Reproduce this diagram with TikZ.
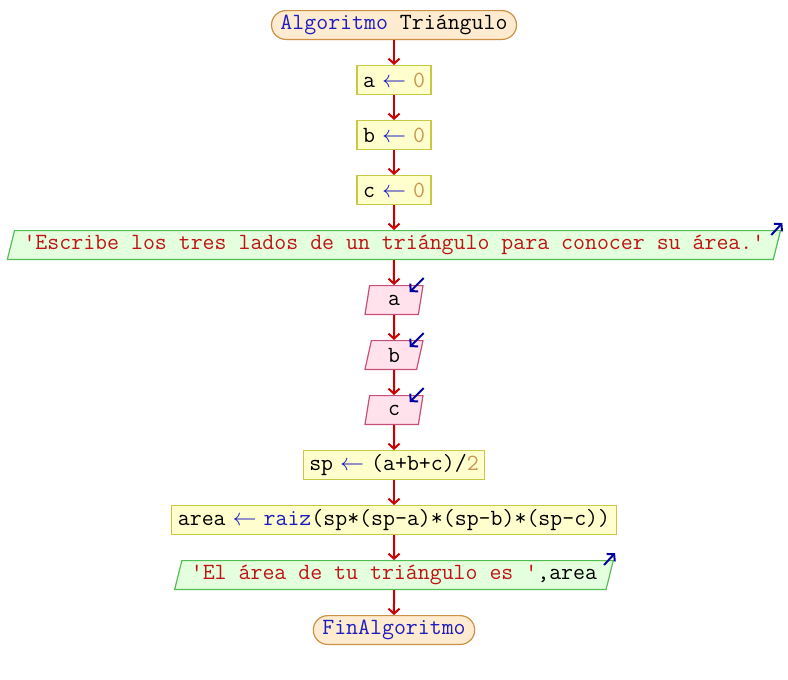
\documentclass[tikz,border=0pt]{standalone}
\usepackage{fontspec}
\usetikzlibrary{shapes, arrows.meta, positioning, calc}
\definecolor{flechaRoja}{RGB}{204,0,0}
\definecolor{azulKw}{RGB}{30,30,190}
\definecolor{rojoStr}{RGB}{190,20,20}
\definecolor{ocreNum}{RGB}{200,150,80}
\definecolor{azulMarca}{RGB}{0,0,160}
\definecolor{fondoTerm}{RGB}{255,236,208}
\definecolor{bordeTerm}{RGB}{205,145,70}
\definecolor{fondoAsig}{RGB}{255,255,206}
\definecolor{bordeAsig}{RGB}{200,200,70}
\definecolor{fondoEsc}{RGB}{228,255,222}
\definecolor{bordeEsc}{RGB}{80,190,80}
\definecolor{fondoLeer}{RGB}{255,226,236}
\definecolor{bordeLeer}{RGB}{200,80,120}
\newcommand\kw[1]{\textcolor{azulKw}{#1}}
\newcommand\str[1]{\textcolor{rojoStr}{#1}}
\newcommand\num[1]{\textcolor{ocreNum}{#1}}
\newcommand\asig{\hspace{3.5pt}\textcolor{azulKw}{$\leftarrow$}\hspace{3.5pt}}
\tikzset{terminal/.style={draw=bordeTerm, fill=fondoTerm, rounded corners=7.2pt, minimum height=14.4pt, inner xsep=4.5pt, inner ysep=0pt}}
\tikzset{asignar/.style={draw=bordeAsig, fill=fondoAsig, minimum height=14.4pt, inner xsep=3pt, inner ysep=0pt}}
\tikzset{escribir/.style={trapezium, trapezium left angle=70, trapezium right angle=110, trapezium stretches body, draw=bordeEsc, fill=fondoEsc, minimum height=14.4pt, inner xsep=4.5pt, inner ysep=0pt}}
\tikzset{leer/.style={trapezium, trapezium left angle=66, trapezium right angle=114, trapezium stretches body, draw=bordeLeer, fill=fondoLeer, minimum height=14.4pt, minimum width=29pt, inner ysep=0pt}}
\tikzset{flujo/.style={draw=flechaRoja, line width=1pt, -{Straight Barb[length=2.5pt,width=5.5pt]}}}
\tikzset{marca/.style={draw=azulMarca, line width=1pt, -{Straight Barb[length=2.5pt,width=5.5pt]}}}

\begin{document}
\begin{tikzpicture}[font=\ttfamily\fontsize{11.6}{13}\selectfont, node distance=12.5pt, line width=0.6pt]
\useasboundingbox (0,0) rectangle (394pt,-340pt);

\node[terminal] (inicio) at (197pt,-12.5pt) {\kw{Algoritmo} Triángulo};
\node[asignar, below=of inicio] (asigA) {a\asig\num{0}};
\node[asignar, below=of asigA] (asigB) {b\asig\num{0}};
\node[asignar, below=of asigB] (asigC) {c\asig\num{0}};
\node[escribir, below=of asigC] (mensaje) {\str{'Escribe los tres lados de un triángulo para conocer su área.'}};
\node[leer, below=of mensaje] (leerA) {a};
\node[leer, below=of leerA] (leerB) {b};
\node[leer, below=of leerB] (leerC) {c};
\node[asignar, below=of leerC] (semiper) {sp\asig(a+b+c)/\num{2}};
\node[asignar, below=of semiper] (area) {area\asig\kw{raiz}(sp*(sp-a)*(sp-b)*(sp-c))};
\node[escribir, below=of area] (resultado) {\str{'El área de tu triángulo es '},area};
\node[terminal, below=of resultado] (fin) {\kw{FinAlgoritmo}};

\draw[flujo] (inicio) -- (asigA);
\draw[flujo] (asigA) -- (asigB);
\draw[flujo] (asigB) -- (asigC);
\draw[flujo] (asigC) -- (mensaje);
\draw[flujo] (mensaje) -- (leerA);
\draw[flujo] (leerA) -- (leerB);
\draw[flujo] (leerB) -- (leerC);
\draw[flujo] (leerC) -- (semiper);
\draw[flujo] (semiper) -- (area);
\draw[flujo] (area) -- (resultado);
\draw[flujo] (resultado) -- (fin);

% marcas de entrada y salida
\draw[marca] ($(mensaje.top right corner)+(-5pt,-2.5pt)$) -- +(5.5pt,6pt);
\draw[marca] ($(resultado.top right corner)+(-5pt,-2.5pt)$) -- +(5.5pt,6pt);
\draw[marca] ($(leerA.top right corner)+(0pt,3.5pt)$) -- +(-7pt,-7pt);
\draw[marca] ($(leerB.top right corner)+(0pt,3.5pt)$) -- +(-7pt,-7pt);
\draw[marca] ($(leerC.top right corner)+(0pt,3.5pt)$) -- +(-7pt,-7pt);

\end{tikzpicture}
\end{document}
